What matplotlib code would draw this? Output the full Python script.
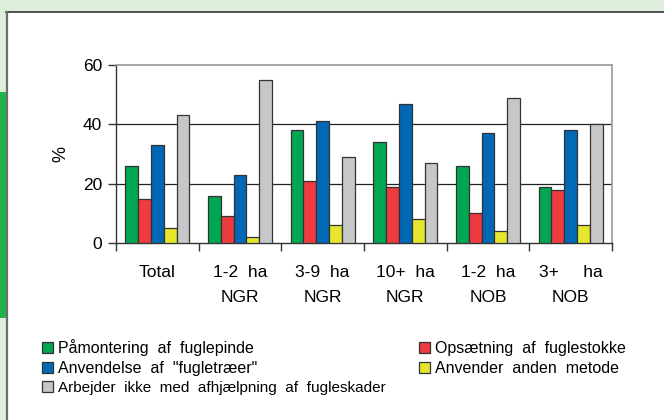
import matplotlib
matplotlib.use("Agg")
import matplotlib.pyplot as plt
from matplotlib.patches import Rectangle, Patch
import numpy as np

plt.rcParams['font.family'] = ['Liberation Sans', 'DejaVu Sans']

categories = ["Total", "1-2  ha\nNGR", "3-9  ha\nNGR", "10+  ha\nNGR", "1-2  ha\nNOB", "3+     ha\nNOB"]
series_names = ["Påmontering  af  fuglepinde",
                "Opsætning  af  fuglestokke",
                "Anvendelse  af  \"fugletræer\"",
                "Anvender  anden  metode",
                "Arbejder  ikke  med  afhjælpning  af  fugleskader"]
pamontering = [26, 16, 38, 34, 26, 19]
opsaetning = [15, 9, 21, 19, 10, 18]
anvendelse = [33, 23, 41, 47, 37, 38]
anden = [5, 2, 6, 8, 4, 6]
arbejder_ikke = [43, 55, 29, 27, 49, 40]
yticks = [0, 20, 40, 60]

series = [pamontering, opsaetning, anvendelse, anden, arbejder_ikke]
colors = ["#00a651", "#ed3b3f", "#0068b5", "#e6e62e", "#c6c7c8"]

W, H = 664, 420
fig = plt.figure(figsize=(W / 100, H / 100), dpi=100)
fig.patch.set_facecolor("#deeedc")

# white panel
fig.patches.append(Rectangle((6 / W, -0.05), 1.1, (H - 11) / H + 0.05, transform=fig.transFigure,
                             facecolor="white", edgecolor="none", zorder=-5))
fig.lines.append(plt.Line2D([6 / W, 1.0], [1 - 11.5 / H, 1 - 11.5 / H], transform=fig.transFigure,
                            color="#333333", lw=1.2, zorder=-4))
fig.lines.append(plt.Line2D([6.5 / W, 6.5 / W], [0, 1 - 11.5 / H], transform=fig.transFigure,
                            color="#6e6e6e", lw=1.6, zorder=-4))
fig.patches.append(Rectangle((0, 1 - 318 / H), 5.5 / W, (318 - 92) / H, transform=fig.transFigure,
                             facecolor="#21b24b", edgecolor="none", zorder=-4))

ax = fig.add_axes([116 / W, 1 - 243 / H, (612 - 116) / W, (243 - 65) / H])
ax.set_facecolor("white")

n = len(categories)
x = np.arange(n)
bw = 0.155
offsets = (np.arange(5) - 2) * bw
for s, vals, c, name in zip(range(5), series, colors, series_names):
    ax.bar(x + offsets[s], vals, width=bw, color=c, edgecolor="#333333", linewidth=0.9,
           label=name, zorder=3)

ax.set_xlim(-0.5, n - 0.5)
ax.set_ylim(0, 60)
ax.set_yticks(yticks)
ax.set_yticklabels([str(t) for t in yticks], fontsize=12.5)
ax.tick_params(axis="y", direction="out", length=6, width=1, color="#333333", pad=4)
for t in [20, 40]:
    ax.axhline(t, color="#222222", lw=0.9, zorder=1)

ax.set_xticks(x)
ax.set_xticklabels(categories, fontsize=12.5, linespacing=1.85)
ax.tick_params(axis="x", length=0, pad=16)
ax.set_xticks(np.arange(n + 1) - 0.5, minor=True)
ax.tick_params(axis="x", which="minor", direction="out", length=6, width=1, color="#333333")

for side in ["top", "right"]:
    ax.spines[side].set_color("#9a9a9a")
    ax.spines[side].set_linewidth(1.2)
for side in ["left", "bottom"]:
    ax.spines[side].set_color("#333333")
    ax.spines[side].set_linewidth(1.0)

ax.set_ylabel("%", fontsize=13, labelpad=10)

handles = [Patch(facecolor=c, edgecolor="#333333", linewidth=0.9) for c in colors]
leg_kw = dict(loc="upper left", frameon=False, fontsize=11.5, handlelength=0.7, handleheight=0.7,
              handletextpad=0.3, labelspacing=0.3, borderaxespad=0, borderpad=0)
left = [0, 2, 4]
right = [1, 3]
leg1 = fig.legend([handles[i] for i in left], [series_names[i] for i in left],
                  bbox_to_anchor=(42 / W, 1 - 339 / H), **leg_kw)
leg1.get_texts()[2].set_fontsize(11)
leg2 = fig.legend([handles[i] for i in right], [series_names[i] for i in right],
                  bbox_to_anchor=(419 / W, 1 - 341 / H), **leg_kw)

fig.savefig("out.png", dpi=100, facecolor=fig.get_facecolor())
